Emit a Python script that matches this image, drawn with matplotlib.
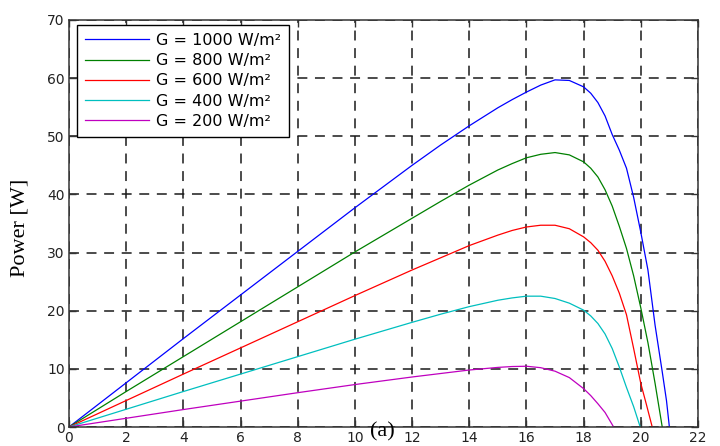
import matplotlib
matplotlib.use("Agg")
from matplotlib import pyplot as plt

# P-V curves (voltage [V], power [W])
v_1000 = [0, 2, 4, 6, 8, 10, 12, 13, 14, 15, 15.5, 16, 16.5, 17, 17.5, 18, 18.25, 18.5, 18.75, 19,
          19.25, 19.5, 19.75, 20, 20.25, 20.5, 20.75, 20.9, 21.0]
p_1000 = [0, 7.6, 15.2, 22.7, 30.2, 37.7, 45.0, 48.5, 51.8, 54.9, 56.3, 57.6, 58.8, 59.7, 59.6, 58.5, 57.4, 55.8, 53.5, 50.3,
          47.6, 44.5, 39.5, 33.5, 27, 17.5, 9.5, 4.5, 0]

v_800 = [0, 2, 4, 6, 8, 10, 12, 13, 14, 15, 15.5, 16, 16.5, 17, 17.5, 18, 18.25, 18.5, 18.75, 19,
         19.25, 19.5, 19.75, 20, 20.25, 20.5, 20.75]
p_800 = [0, 6.1, 12.1, 18.1, 24.1, 30.1, 35.9, 38.8, 41.6, 44.2, 45.3, 46.3, 46.9, 47.2, 46.8, 45.6, 44.5, 43, 40.8, 38,
         34.5, 30.7, 26, 20.5, 14.5, 7.5, 0]

v_600 = [0, 2, 4, 6, 8, 10, 12, 13, 14, 15, 15.5, 16, 16.5, 17, 17.5, 18, 18.25, 18.5, 18.75, 19,
         19.25, 19.5, 19.75, 20, 20.2, 20.4]
p_600 = [0, 4.55, 9.1, 13.6, 18.1, 22.6, 27.0, 29.1, 31.2, 33.0, 33.8, 34.4, 34.7, 34.7, 34.1, 32.7, 31.7, 30.4, 28.5, 26,
         23, 19.3, 13.5, 7.5, 3.8, 0]

v_400 = [0, 2, 4, 6, 8, 10, 12, 13, 14, 15, 15.5, 16, 16.5, 17, 17.5, 18, 18.25, 18.5, 18.75, 19,
         19.25, 19.5, 19.75, 19.98]
p_400 = [0, 3.05, 6.1, 9.1, 12.1, 15.1, 18.0, 19.4, 20.7, 21.8, 22.2, 22.5, 22.5, 22.1, 21.3, 20.1, 19.1, 17.8, 16.0, 13.5,
         10.3, 6.8, 3.5, 0]

v_200 = [0, 2, 4, 6, 8, 10, 12, 13, 14, 15, 15.5, 16, 16.5, 17, 17.5, 18, 18.25, 18.5, 18.75, 19.05]
p_200 = [0, 1.5, 3.0, 4.45, 5.9, 7.3, 8.6, 9.2, 9.8, 10.25, 10.4, 10.45, 10.2, 9.6, 8.5, 6.6, 5.4, 4.0, 2.5, 0]

labels = ["G = 1000 W/m²", "G = 800 W/m²", "G = 600 W/m²", "G = 400 W/m²", "G = 200 W/m²"]
colors = ["#0000ff", "#008000", "#ff0000", "#00bfbf", "#bf00bf"]
curves = [(v_1000, p_1000), (v_800, p_800), (v_600, p_600), (v_400, p_400), (v_200, p_200)]

fig = plt.figure(figsize=(7.2, 4.46), dpi=100)
ax = fig.add_axes([0.0958, 0.0426, 0.8736, 0.9126])

for (v, p), c, lab in zip(curves, colors, labels):
    ax.plot(v, p, color=c, linewidth=0.9, label=lab)

ax.set_xlim(0, 22)
ax.set_ylim(0, 70)
ax.set_xticks(range(0, 23, 2))
ax.set_yticks(range(0, 71, 10))
ax.grid(True, color="#1a1a1a", linestyle=(0, (6.5, 5)), linewidth=1.1)
ax.tick_params(direction="in", top=True, right=True, length=5, width=1.0,
               labelsize=10, labelcolor="#222222", colors="#333333", pad=3)
for t in ax.get_xticklabels() + ax.get_yticklabels():
    t.set_family("DejaVu Sans")
for s in ax.spines.values():
    s.set_color("#333333")
    s.set_linewidth(1.1)

ax.set_ylabel("Power [W]", family="Liberation Serif", fontsize=16)
ax.yaxis.set_label_coords(-0.062, 0.49)
ax.text(10.95, 0.8, "(a)", family="Liberation Serif", fontsize=16, ha="center", va="top")

leg = ax.legend(loc="upper left", bbox_to_anchor=(0.0127, 0.988), borderaxespad=0,
                fancybox=False, edgecolor="black", framealpha=1, handlelength=4.0,
                handletextpad=0.45, borderpad=0.5, labelspacing=0.33,
                prop={"family": "DejaVu Sans", "size": 11.5})
leg.get_frame().set_linewidth(1.0)

fig.savefig("out.png", dpi=100)
